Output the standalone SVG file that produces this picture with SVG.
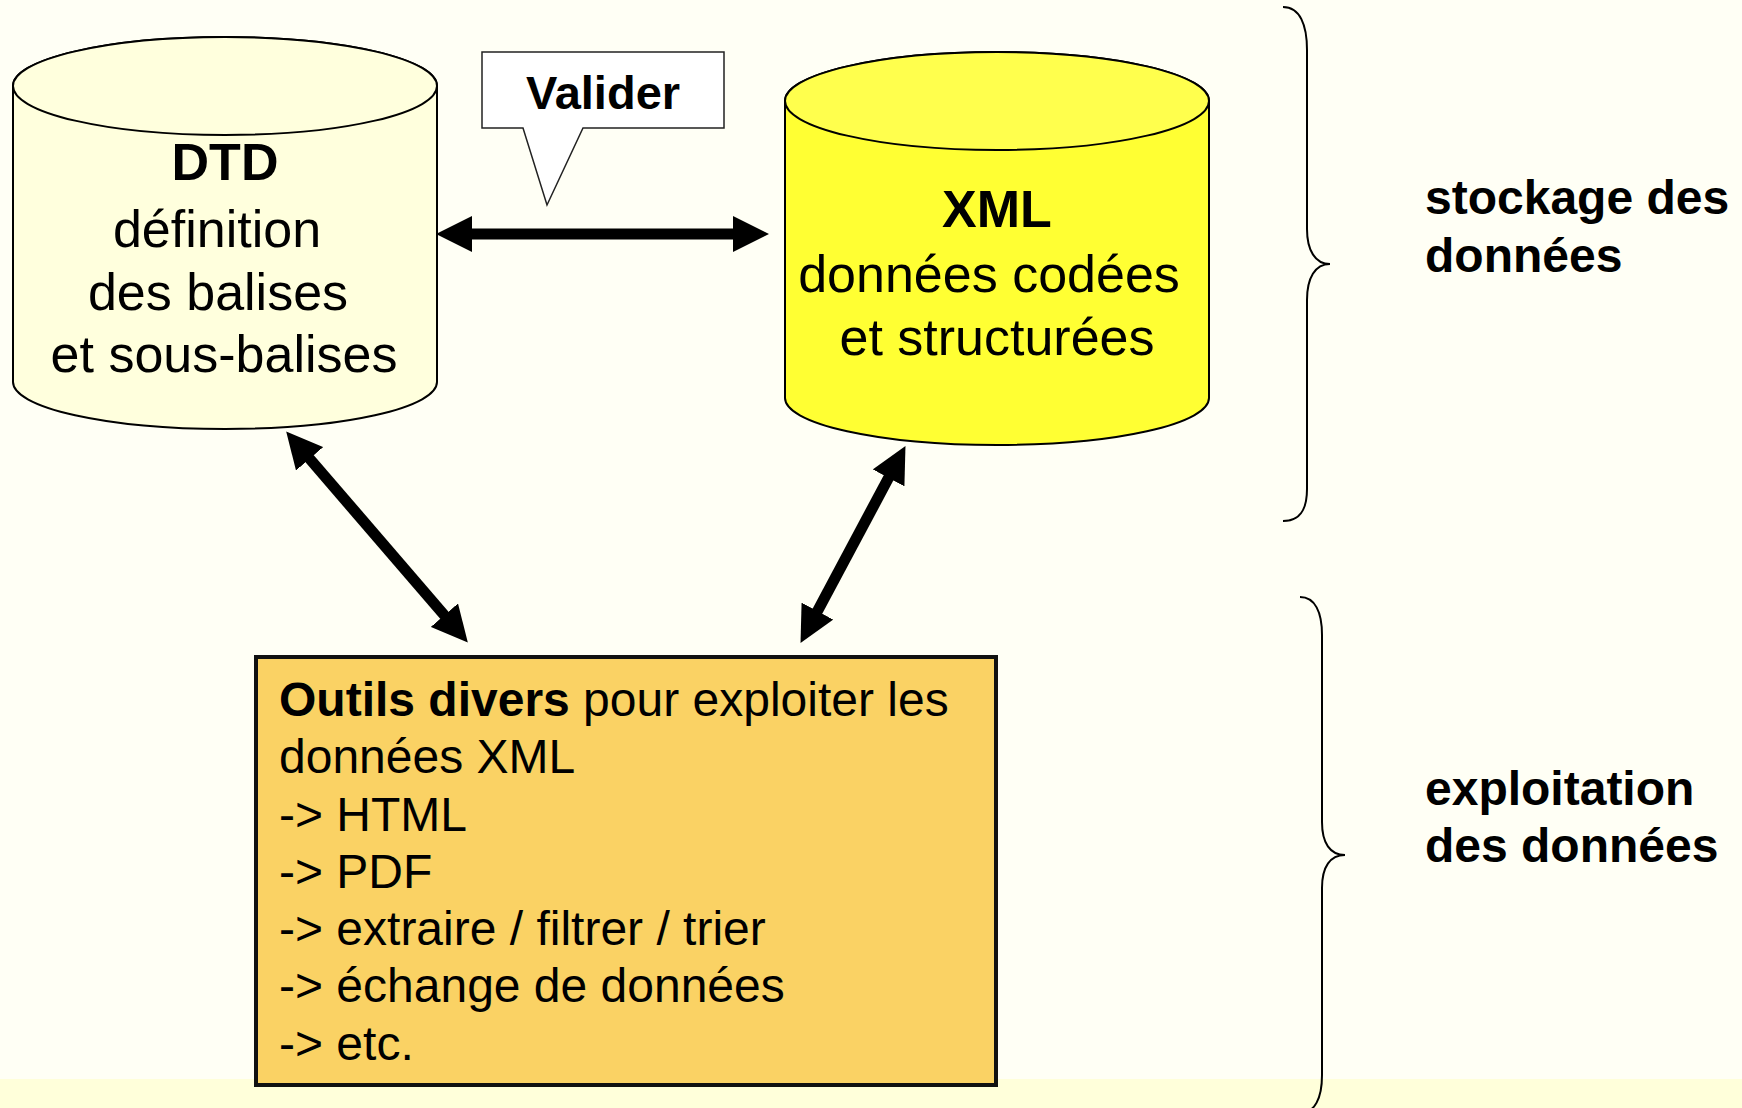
<svg xmlns="http://www.w3.org/2000/svg" width="1742" height="1108" viewBox="0 0 1742 1108">
<style>
  .t { font-family: "Liberation Sans", Arial, sans-serif; fill: #000; }
  .b { font-weight: bold; }
  .cyl { stroke: #000; stroke-width: 2; }
  .brace { fill: none; stroke: #000; stroke-width: 2; }
  .arrow { stroke: #000; stroke-width: 11; fill: none; marker-start: url(#ah); marker-end: url(#ah); }
</style>
<defs>
  <marker id="ah" markerUnits="userSpaceOnUse" markerWidth="36" markerHeight="36" viewBox="0 0 36 36" refX="1" refY="18" orient="auto-start-reverse">
    <path d="M0,0 L36,18 L0,36 Z" fill="#000"/>
  </marker>
</defs>
<rect x="0" y="0" width="1742" height="1108" fill="#FFFFF5"/>
<rect x="0" y="1079" width="1742" height="29" fill="#FFFFDA"/>

<g id="dtd">
  <path class="cyl" fill="#FFFFDD" d="M13,86 L13,382 A212,47 0 0 0 437,382 L437,86 A212,49 0 0 0 13,86 Z"/>
  <ellipse class="cyl" fill="#FFFFDD" cx="225" cy="86" rx="212" ry="49"/>
  <text class="t b" x="225" y="180" font-size="52" text-anchor="middle">DTD</text>
  <text class="t" x="217" y="247" font-size="52" text-anchor="middle">définition</text>
  <text class="t" x="218" y="310" font-size="52" text-anchor="middle">des balises</text>
  <text class="t" x="224" y="372" font-size="52" text-anchor="middle">et sous-balises</text>
</g>

<g id="xml">
  <path class="cyl" fill="#FFFF33" d="M785,101 L785,398 A212,47 0 0 0 1209,398 L1209,101 A212,49 0 0 0 785,101 Z"/>
  <ellipse class="cyl" fill="#FFFF4D" cx="997" cy="101" rx="212" ry="49"/>
  <text class="t b" x="997" y="227" font-size="52" text-anchor="middle">XML</text>
  <text class="t" x="989" y="292" font-size="52" text-anchor="middle">données codées</text>
  <text class="t" x="997" y="355" font-size="52" text-anchor="middle">et structurées</text>
</g>

<g id="valider">
  <path d="M482,52 H724 V128 H583 L547,205 L523,128 H482 Z" fill="#FFFFFF" stroke="#222" stroke-width="1.5"/>
  <text class="t b" x="603" y="109" font-size="47" text-anchor="middle">Valider</text>
</g>

<g id="outils">
  <rect x="256" y="657" width="740" height="428" fill="#FAD264" stroke="#111" stroke-width="4"/>
  <text class="t" font-size="48" x="279" y="716"><tspan class="b">Outils divers</tspan> pour exploiter les</text>
  <text class="t" font-size="48" x="279" y="773">données XML</text>
  <text class="t" font-size="48" x="279" y="831">-&gt; HTML</text>
  <text class="t" font-size="48" x="279" y="888">-&gt; PDF</text>
  <text class="t" font-size="48" x="279" y="945">-&gt; extraire / filtrer / trier</text>
  <text class="t" font-size="48" x="279" y="1002">-&gt; échange de données</text>
  <text class="t" font-size="48" x="279" y="1060">-&gt; etc.</text>
</g>

<g id="stockage">
  <path class="brace" d="M1283,7 C1300,7 1307,25 1307,50 L1307,229 C1307,250 1315,264 1330,264 C1315,264 1307,278 1307,300 L1307,489 C1307,510 1300,521 1283,521"/>
  <text class="t b" font-size="48" x="1425" y="214">stockage des</text>
  <text class="t b" font-size="48" x="1425" y="272">données</text>
</g>

<g id="exploitation">
  <path class="brace" d="M1300,597 C1315,597 1322,612 1322,635 L1322,822 C1322,843 1330,855 1345,855 C1330,855 1322,867 1322,888 L1322,1075 C1322,1098 1315,1113 1300,1113"/>
  <text class="t b" font-size="48" x="1425" y="805">exploitation</text>
  <text class="t b" font-size="48" x="1425" y="862">des données</text>
</g>

<g id="connectors">
  <line class="arrow" x1="471" y1="234" x2="734" y2="234"/>
  <line class="arrow" x1="309" y1="458" x2="445" y2="616"/>
  <line class="arrow" x1="889" y1="477" x2="817" y2="612"/>
</g>
</svg>
